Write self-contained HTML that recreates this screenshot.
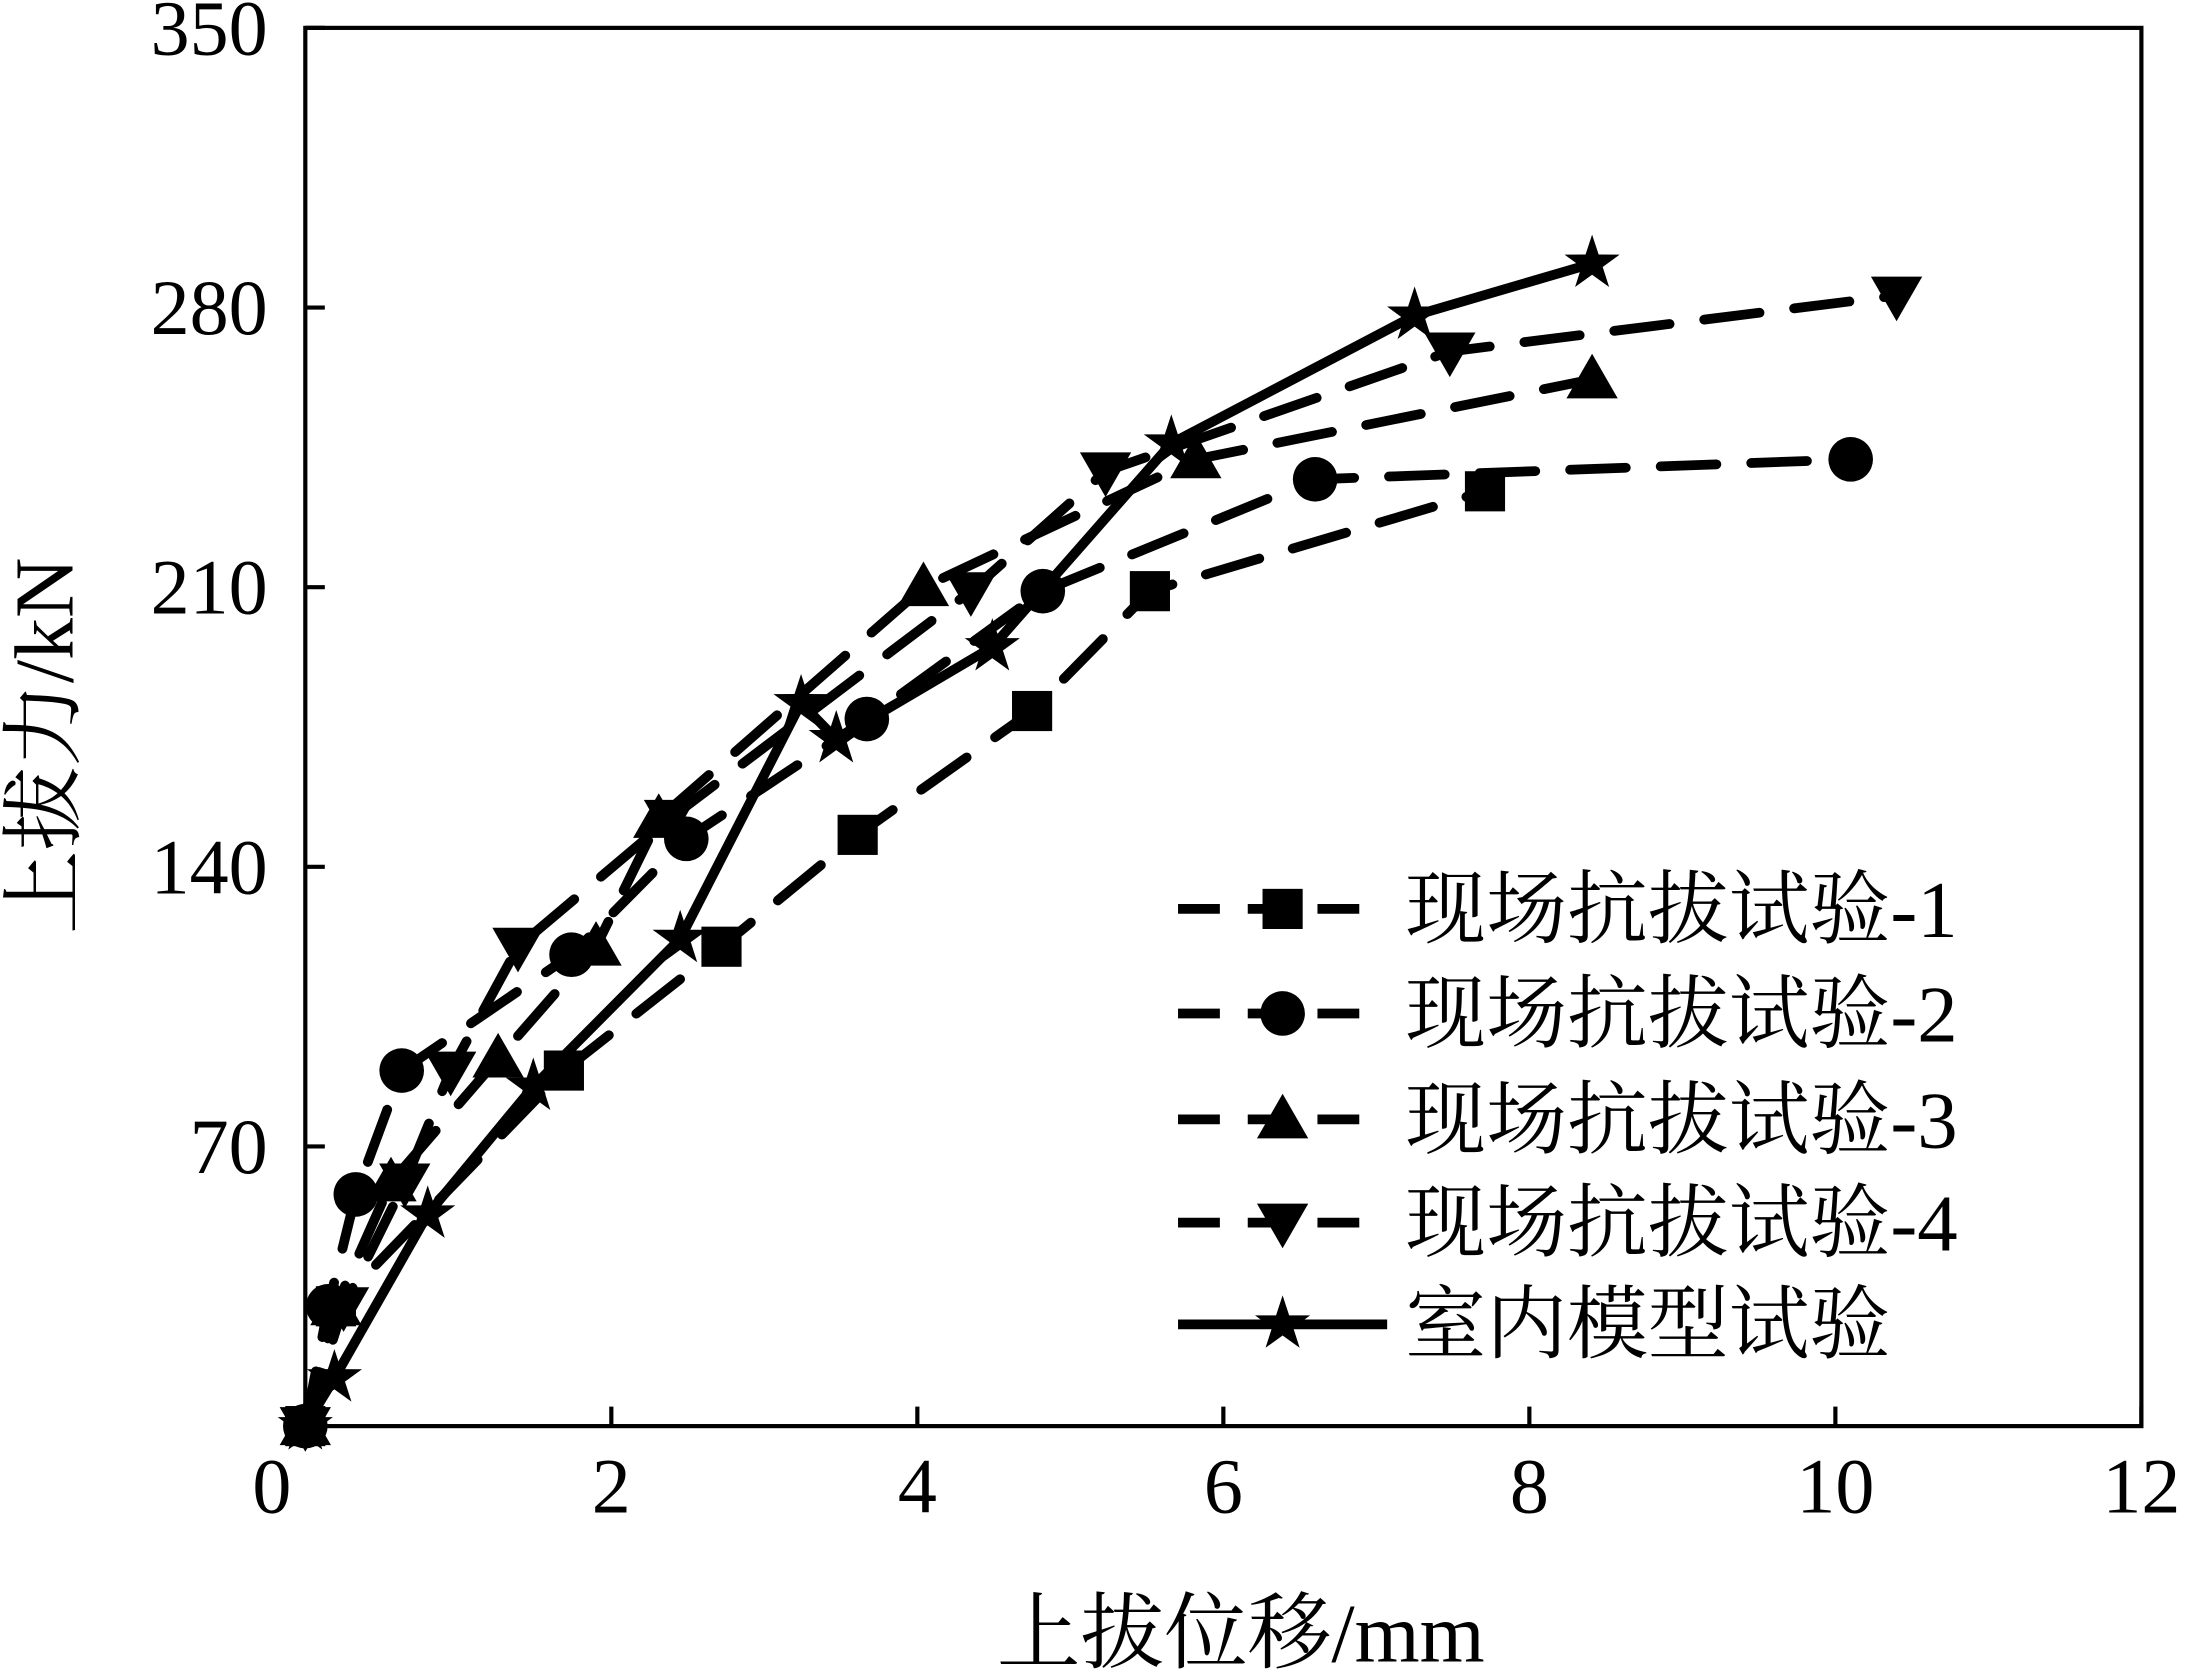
<!DOCTYPE html>
<html><head><meta charset="utf-8"><style>html,body{margin:0;padding:0;background:#fff}svg{display:block}</style></head>
<body>
<svg id="chart" width="2186" height="1679" viewBox="0 0 1568 1204.4" preserveAspectRatio="none" xmlns="http://www.w3.org/2000/svg" font-family="'Liberation Serif','Noto Serif CJK SC','Noto Sans CJK SC',serif">
<g id="plot"></g>
</svg>
<script>
const xTicks=[0,2,4,6,8,10,12];
const yTicks=[0,70,140,210,280,350];
const s1x=[0,0.2,1.69,2.72,3.61,4.75,5.52,7.71];
const s1y=[0,30,89,120,148,179,209,234];
const s2x=[0,0.15,0.33,0.63,1.74,2.49,3.67,4.82,6.6,10.1];
const s2y=[0,30,58,89,118,147,177,209,237,242];
const s3x=[0,0.2,0.56,1.26,1.9,2.31,4.04,5.82,8.41];
const s3y=[0,30,61,92,120,152,210,242,262];
const s4x=[0,0.25,0.65,0.95,1.39,2.38,4.35,5.23,7.48,10.4];
const s4y=[0,30,61,89,120,152,209,239,269,283];
const s5x=[0,0.19,0.8,1.49,2.45,3.24,3.47,4.49,5.66,7.25,8.41];
const s5y=[0,12,53,85,122,181,172,195,246,278,291];
const names=["现场抗拔试验-1","现场抗拔试验-2","现场抗拔试验-3","现场抗拔试验-4","室内模型试验"];
const L=219,R=1536,T=20,B=1023;
const X=v=>L+(v-0)/12*(R-L);
const Y=v=>B-(v/350)*(B-T);
const NS="http://www.w3.org/2000/svg";
const g=document.getElementById('plot');
function mk(t,a,p){const e=document.createElementNS(NS,t);for(const k in a)e.setAttribute(k,a[k]);(p||g).appendChild(e);return e;}
function marker(type,cx,cy,r,p){
  let e;
  if(type==='sq')e=mk('rect',{x:cx-r*0.9,y:cy-r*0.9,width:r*1.8,height:r*1.8,fill:'#000'},p);
  else if(type==='ci')e=mk('circle',{cx:cx,cy:cy,r:r,fill:'#000'},p);
  else if(type==='tu')e=mk('polygon',{points:`${cx},${cy-r*1.15} ${cx-r*1.15},${cy+r*0.85} ${cx+r*1.15},${cy+r*0.85}`,fill:'#000'},p);
  else if(type==='td')e=mk('polygon',{points:`${cx},${cy+r*1.15} ${cx-r*1.15},${cy-r*0.85} ${cx+r*1.15},${cy-r*0.85}`,fill:'#000'},p);
  else{let pts=[];for(let i=0;i<10;i++){const a=-Math.PI/2+i*Math.PI/5;const rr=i%2?r*0.5:r*1.3;pts.push((cx+rr*Math.cos(a))+','+(cy+rr*Math.sin(a)));}
    e=mk('polygon',{points:pts.join(' '),fill:'#000'},p);}
  return e;
}
// axes
const frame=mk('rect',{x:L,y:T,width:R-L,height:B-T,fill:'none',stroke:'#000','stroke-width':3});


xTicks.forEach(v=>{
  const t=mk('line',{x1:X(v),x2:X(v),y1:B,y2:B-14,stroke:'#000','stroke-width':3});
  
  
  const lb=mk('text',{x:v===0?X(v)-24:X(v),y:1085,'font-size':56,'text-anchor':'middle'});
  lb.textContent=v;
  
  
});
yTicks.forEach(v=>{
  const t=mk('line',{x1:L,x2:L+14,y1:Y(v),y2:Y(v),stroke:'#000','stroke-width':3});
  
  
  if(v===0)return;
  const lb=mk('text',{x:192,y:Y(v)+19,'font-size':56,'text-anchor':'end'});
  lb.textContent=v;
  
  
});
const xt=mk('text',{x:890,y:1192,'font-size':60,'text-anchor':'middle'});
xt.textContent='上拔位移/mm';


const yt=mk('text',{x:0,y:0,'font-size':60,'text-anchor':'middle',transform:'translate(52,535) rotate(-90)'});
yt.textContent='上拔力/kN';


// series
const series=[[s1x,s1y,'sq','40 25'],[s2x,s2y,'ci','40 25'],[s3x,s3y,'tu','40 25'],[s4x,s4y,'td','40 25'],[s5x,s5y,'st',null]];
series.forEach((s,i)=>{
  const sg=mk('g',{});
  
  
  const pts=s[0].map((x,j)=>X(x)+','+Y(s[1][j])).join(' ');
  const a={points:pts,fill:'none',stroke:'#000','stroke-width':7,'stroke-linecap':'round','stroke-linejoin':'round'};
  if(s[3])a['stroke-dasharray']=s[3];
  const pl=mk('polyline',a,sg);
  
  
  s[0].forEach((x,j)=>{
    const m=marker(s[2],X(x),Y(s[1][j]),16,sg);
    
    
  });
});
// legend
const lg=mk('g',{});


const ly=[652,727,803,877,950];
series.forEach((s,i)=>{
  const a={x1:845,x2:995,y1:ly[i],y2:ly[i],stroke:'#000','stroke-width':7};
  if(s[3])a['stroke-dasharray']='30 20';
  const ln=mk('line',a,lg);
  
  
  const m=marker(s[2],920,ly[i],16,lg);
  
  
  const tx=mk('text',{x:1008,y:ly[i]+20,'font-size':58},lg);
  tx.textContent=names[i];
  
  
});
</script>
</body></html>
